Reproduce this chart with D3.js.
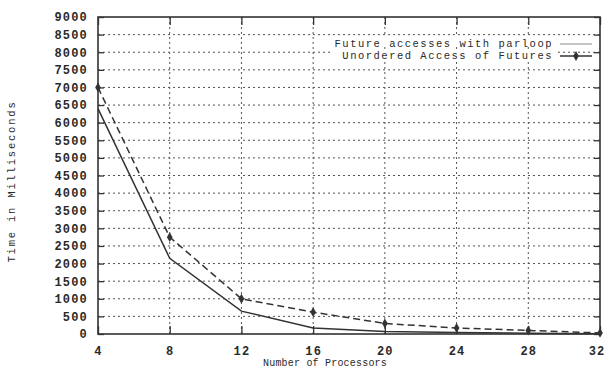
<!DOCTYPE html>
<html>
<head>
<meta charset="utf-8">
<script src="https://cdn.jsdelivr.net/npm/d3@7"></script>
<style>
  body { margin: 0; background: #fff; }
  text { font-family: "Liberation Mono", "DejaVu Sans Mono", monospace; fill: #2a2a2a; }
</style>
</head>
<body>
<div id="chart"></div>
<script>
const WIDTH = 605, HEIGHT = 371;
const LEFT = 98, RIGHT = 600, TOP = 17, BOTTOM = 334;

// data
const processors = [4, 8, 12, 16, 20, 24, 28, 32];
const parloop = [6400, 2150, 650, 170, 70, 40, 20, 10];          // solid
const unordered = [7000, 2750, 1000, 620, 300, 170, 100, 30];    // dashed + markers
const yTicks = d3.range(0, 9001, 500);
const seriesNames = ["Future accesses with parloop", "Unordered Access of Futures"];

const svg = d3.select("#chart").append("svg")
    .attr("width", WIDTH)
    .attr("height", HEIGHT)

const x = d3.scaleLinear().domain([4, 32]).range([LEFT, RIGHT]);
const y = d3.scaleLinear().domain([0, 9000]).range([BOTTOM, TOP]);
const ink = "#333";

// dotted grid
svg.append("g").selectAll("line.hgrid")
    .data(yTicks.filter(d => d > 0 && d < 9000))
    .join("line")
    .attr("x1", LEFT).attr("x2", RIGHT)
    .attr("y1", d => y(d)).attr("y2", d => y(d))
    .attr("stroke", "#555").attr("stroke-width", 1)
    .attr("stroke-dasharray", "2,3");
svg.append("g").selectAll("line.vgrid")
    .data(processors.filter(d => d > 4 && d < 32))
    .join("line")
    .attr("y1", TOP).attr("y2", BOTTOM)
    .attr("x1", d => x(d)).attr("x2", d => x(d))
    .attr("stroke", "#555").attr("stroke-width", 1)
    .attr("stroke-dasharray", "2,3");

// axes, ticks inward and mirrored
const tickFont = g => g.selectAll("text")
    .style("font-size", "12px").style("font-weight", "bold")
    .style("letter-spacing", "1.2px").attr("fill", "#2a2a2a");
svg.append("g")
    .attr("transform", `translate(${LEFT},0)`)
    .call(d3.axisLeft(y).tickValues(yTicks).tickFormat(d3.format("d"))
        .tickSizeInner(-6).tickSizeOuter(0).tickPadding(10))
    .call(g => g.select(".domain").remove())
    .call(g => g.selectAll("line").attr("stroke", ink).attr("stroke-width", 1.3))
    .call(tickFont);
svg.append("g")
    .attr("transform", `translate(${RIGHT},0)`)
    .call(d3.axisRight(y).tickValues(yTicks).tickSizeInner(-6).tickSizeOuter(0).tickFormat(""))
    .call(g => g.select(".domain").remove())
    .call(g => g.selectAll("line").attr("stroke", ink).attr("stroke-width", 1.3));
svg.append("g")
    .attr("transform", `translate(0,${BOTTOM})`)
    .call(d3.axisBottom(x).tickValues(processors).tickSizeInner(-8).tickSizeOuter(0).tickPadding(12))
    .call(g => g.select(".domain").remove())
    .call(g => g.selectAll("line").attr("stroke", ink).attr("stroke-width", 1.3))
    .call(tickFont)
    .call(g => g.selectAll("text").filter(d => d === 32)
        .attr("text-anchor", "end").attr("dx", "5px"));
svg.append("g")
    .attr("transform", `translate(0,${TOP})`)
    .call(d3.axisTop(x).tickValues(processors).tickSizeInner(-8).tickSizeOuter(0).tickFormat(""))
    .call(g => g.select(".domain").remove())
    .call(g => g.selectAll("line").attr("stroke", ink).attr("stroke-width", 1.3));

svg.append("rect")
    .attr("x", LEFT).attr("y", TOP)
    .attr("width", RIGHT - LEFT).attr("height", BOTTOM - TOP)
    .attr("fill", "none").attr("stroke", ink).attr("stroke-width", 1.6);

// lines
const line = d3.line().x((d, i) => x(processors[i])).y(d => y(d));
svg.append("path").datum(parloop)
    .attr("d", line).attr("fill", "none")
    .attr("stroke", ink).attr("stroke-width", 1.5);
svg.append("path").datum(unordered)
    .attr("d", line).attr("fill", "none")
    .attr("stroke", ink).attr("stroke-width", 1.5)
    .attr("stroke-dasharray", "7,4");
const diamond = d3.symbol().type(d3.symbolDiamond).size(28);
svg.append("g").selectAll("path")
    .data(unordered)
    .join("path")
    .attr("d", diamond)
    .attr("transform", (d, i) => `translate(${x(processors[i])},${y(d)})`)
    .attr("fill", ink);

// legend
const legend = svg.append("g");
seriesNames.forEach((name, i) => {
    const ly = 44 + i * 12;
    legend.append("rect")
        .attr("x", i === 0 ? 325 : 333).attr("y", ly - 7)
        .attr("width", i === 0 ? 230 : 222).attr("height", 10).attr("fill", "#fff");
    legend.append("text")
        .attr("x", 553).attr("y", ly)
        .attr("dy", "0.32em")
        .attr("text-anchor", "end")
        .style("font-size", "10.5px")
        .style("letter-spacing", "1.5px")
        .text(name);
    legend.append("line")
        .attr("x1", 560).attr("x2", 592)
        .attr("y1", ly).attr("y2", ly)
        .attr("stroke", i === 0 ? "#888" : ink)
        .attr("stroke-width", i === 0 ? 1 : 1.5);
    if (i === 1) {
        legend.append("path")
            .attr("d", diamond)
            .attr("transform", `translate(576,${ly})`)
            .attr("fill", ink);
    }
});

// axis titles
svg.append("text")
    .attr("transform", `translate(12,${(TOP + BOTTOM) / 2 + 6}) rotate(-90)`)
    .attr("text-anchor", "middle")
    .attr("dy", "0.32em")
    .style("font-size", "10.5px")
    .style("letter-spacing", "1.8px")
    .text("Time in Milliseconds");
svg.append("text")
    .attr("x", 325).attr("y", 366)
    .attr("text-anchor", "middle")
    .style("font-size", "10px")
    .style("letter-spacing", "0.2px")
    .text("Number of Processors");
</script>
</body>
</html>
